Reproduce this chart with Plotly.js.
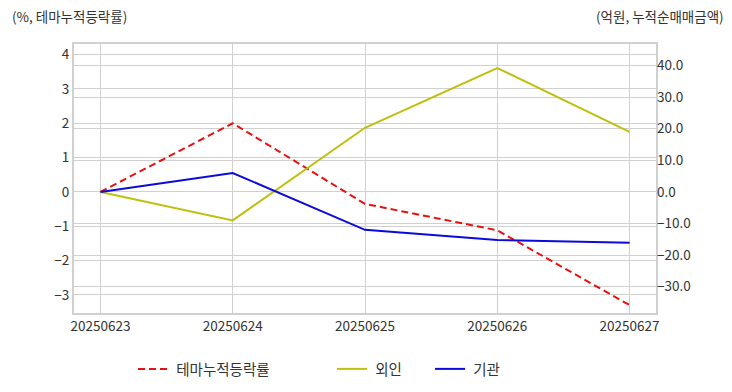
<!DOCTYPE html>
<html>
<head>
<meta charset="utf-8">
<script src="https://cdn.plot.ly/plotly-3.0.1.min.js"></script>
<style>html,body{margin:0;padding:0;background:#fff;}#chart{width:732px;height:392px;}</style>
</head>
<body>
<div id="chart"></div>
<script>
const dates = ['20250623', '20250624', '20250625', '20250626', '20250627'];
const themeReturn = [0, 2.0, -0.35, -1.12, -3.3];
const foreign = [0, -9.0, 20.3, 39.2, 19.0];
const institution = [0, 6.0, -12.0, -15.2, -16.1];
const leftTicks = [-3, -2, -1, 0, 1, 2, 3, 4];
const rightTicks = [-30, -20, -10, 0, 10, 20, 30, 40];

const font = 'Noto Sans CJK KR, Noto Sans, sans-serif';
const traces = [
  {x: dates, y: themeReturn, name: ' 테마누적등락률', type: 'scatter', mode: 'lines',
   line: {color: '#e81010', width: 2, dash: '7px,4px'}, yaxis: 'y', legend: 'legend'},
  {x: dates, y: foreign, name: ' 외인', type: 'scatter', mode: 'lines',
   line: {color: '#bfbf10', width: 2}, yaxis: 'y2', legend: 'legend2'},
  {x: dates, y: institution, name: ' 기관', type: 'scatter', mode: 'lines',
   line: {color: '#0a0adc', width: 2}, yaxis: 'y2', legend: 'legend3'}
];
const legendFont = {size: 14.5, color: '#333'};
const layout = {
  width: 732, height: 392,
  margin: {l: 74, r: 76, t: 44, b: 79, autoexpand: false},
  paper_bgcolor: '#fff', plot_bgcolor: '#fff',
  font: {family: font, size: 13, color: '#333'},
  showlegend: true,
  legend: {orientation: 'h', x: 0.1014, xanchor: 'left', y: -0.208, yanchor: 'middle', font: legendFont},
  legend2: {orientation: 'h', x: 0.4433, xanchor: 'left', y: -0.208, yanchor: 'middle', font: legendFont},
  legend3: {orientation: 'h', x: 0.6117, xanchor: 'left', y: -0.208, yanchor: 'middle', font: legendFont},
  xaxis: {type: 'category', range: [-0.2, 4.2], showgrid: true, gridcolor: '#d0d0d0',
          showline: true, linecolor: '#d0d0d0', linewidth: 2, mirror: true,
          ticks: '', tickfont: {size: 13.5, color: '#333'}, zeroline: false},
  yaxis: {range: [-3.53, 4.31], tickvals: leftTicks, showgrid: true, gridcolor: '#d0d0d0',
          showline: true, linecolor: '#d0d0d0', linewidth: 2, mirror: true,
          zeroline: false, ticks: '', tickfont: {size: 13.5, color: '#333'}},
  yaxis2: {range: [-38.3, 46.8], tickvals: rightTicks, tickformat: '.1f', overlaying: 'y', side: 'right',
           showgrid: true, gridcolor: '#d0d0d0', zeroline: false, ticks: '',
           tickfont: {size: 13.5, color: '#333'}},
  annotations: [
    {text: '(%, 테마누적등락률)', xref: 'paper', yref: 'paper', x: -0.11, y: 1.105,
     xanchor: 'left', yanchor: 'middle', showarrow: false, font: {size: 13.5, color: '#333'}},
    {text: '(억원, 누적순매매금액)', xref: 'paper', yref: 'paper', x: 1.12, y: 1.105,
     xanchor: 'right', yanchor: 'middle', showarrow: false, font: {size: 13.5, color: '#333'}}
  ]
};
Plotly.newPlot('chart', traces, layout, {displayModeBar: false, staticPlot: true});
</script>
</body>
</html>
